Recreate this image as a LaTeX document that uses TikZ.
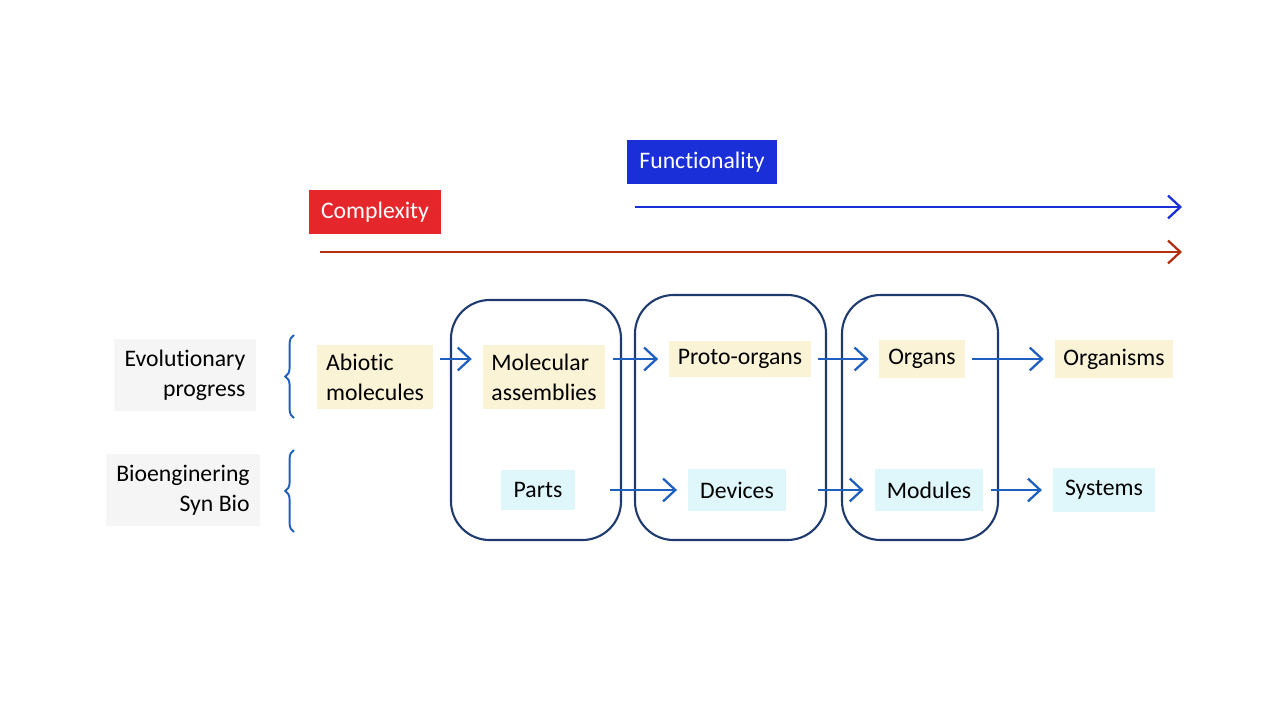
\documentclass[tikz,border=0pt]{standalone}
\usepackage{fontspec}
\setmainfont{Carlito}[Ligatures=NoCommon]
\usetikzlibrary{decorations.pathreplacing,arrows.meta}
\definecolor{funcblue}{HTML}{1A2FD8}
\definecolor{compred}{HTML}{E5262B}
\definecolor{comparrow}{HTML}{B03010}
\definecolor{evoyellow}{HTML}{FBF3D5}
\definecolor{biocyan}{HTML}{DFF7FB}
\definecolor{navy}{HTML}{1F3A6E}
\definecolor{flowblue}{HTML}{1F5FC0}
\begin{document}
\begin{tikzpicture}
        [x=0.02cm,y=-0.02cm,font=\fontsize{13.5}{17}\selectfont,
         tip/.style={-{Straight Barb[length=7pt,width=13pt,line width=1.3pt]}},
         evo/.style={fill=evoyellow,align=left,inner sep=5pt},
         bio/.style={fill=biocyan,inner sep=7pt},
         flow/.style={tip,line width=1.3pt,flowblue,shorten <=4pt,shorten >=6pt},
         group/.style={draw=navy,line width=1.2pt,rounded corners=22pt},
         side/.style={fill=gray!8,align=right,inner sep=6pt}]
        \useasboundingbox (0,0) rectangle (1280,720);

        \node[fill=funcblue,text=white,inner sep=7pt] (F) at (702,162) {Functionality};
        \node[fill=compred,text=white,inner sep=7pt] (C) at (375,212) {Complexity};
        \coordinate (fs) at (635,207); \coordinate (fe) at (1182,207);
        \coordinate (cs) at (320,252); \coordinate (ce) at (1182,252);
        \draw[tip,line width=1.4pt,funcblue] (fs) -- (fe);
        \draw[tip,line width=1.4pt,comparrow] (cs) -- (ce);

        \node[side] (E) at (185,375) {Evolutionary\\progress};
        \node[side] (B) at (183,490) {Bioenginering\\Syn Bio};
        \draw[flowblue,line width=1.1pt,decorate,decoration={brace,amplitude=5pt}] (294,418) -- (294,335);
        \draw[flowblue,line width=1.1pt,decorate,decoration={brace,amplitude=5pt}] (294,532) -- (294,450);

        \draw[group] (451,300) rectangle (621,540);
        \draw[group] (635,295) rectangle (826,540);
        \draw[group] (842,295) rectangle (998,540);

        \node[evo] (A) at (375,377) {Abiotic\\molecules};
        \node[evo] (M) at (544,377) {Molecular\\assemblies};
        \node[evo] (P) at (740,359) {Proto-organs};
        \node[evo] (O) at (922,359) {Organs};
        \node[evo] (G) at (1114,359) {Organisms};

        \node[bio] (Pa) at (538,490) {Parts};
        \node[bio] (D) at (737,490) {Devices};
        \node[bio] (Mo) at (929,490) {Modules};
        \node[bio] (S) at (1104,490) {Systems};

        \draw[flow] (A.east |- P) -- (M.west |- P);
        \draw[flow] (M.east |- P) -- (P);
        \draw[flow] (P) -- (O);
        \draw[flow] (O) -- (G);
        \draw[flow,shorten <=20pt] (Pa) -- (D);
        \draw[flow,shorten <=18pt] (D) -- (Mo);
        \draw[flow] (Mo) -- (S);
      \end{tikzpicture}
\end{document}
